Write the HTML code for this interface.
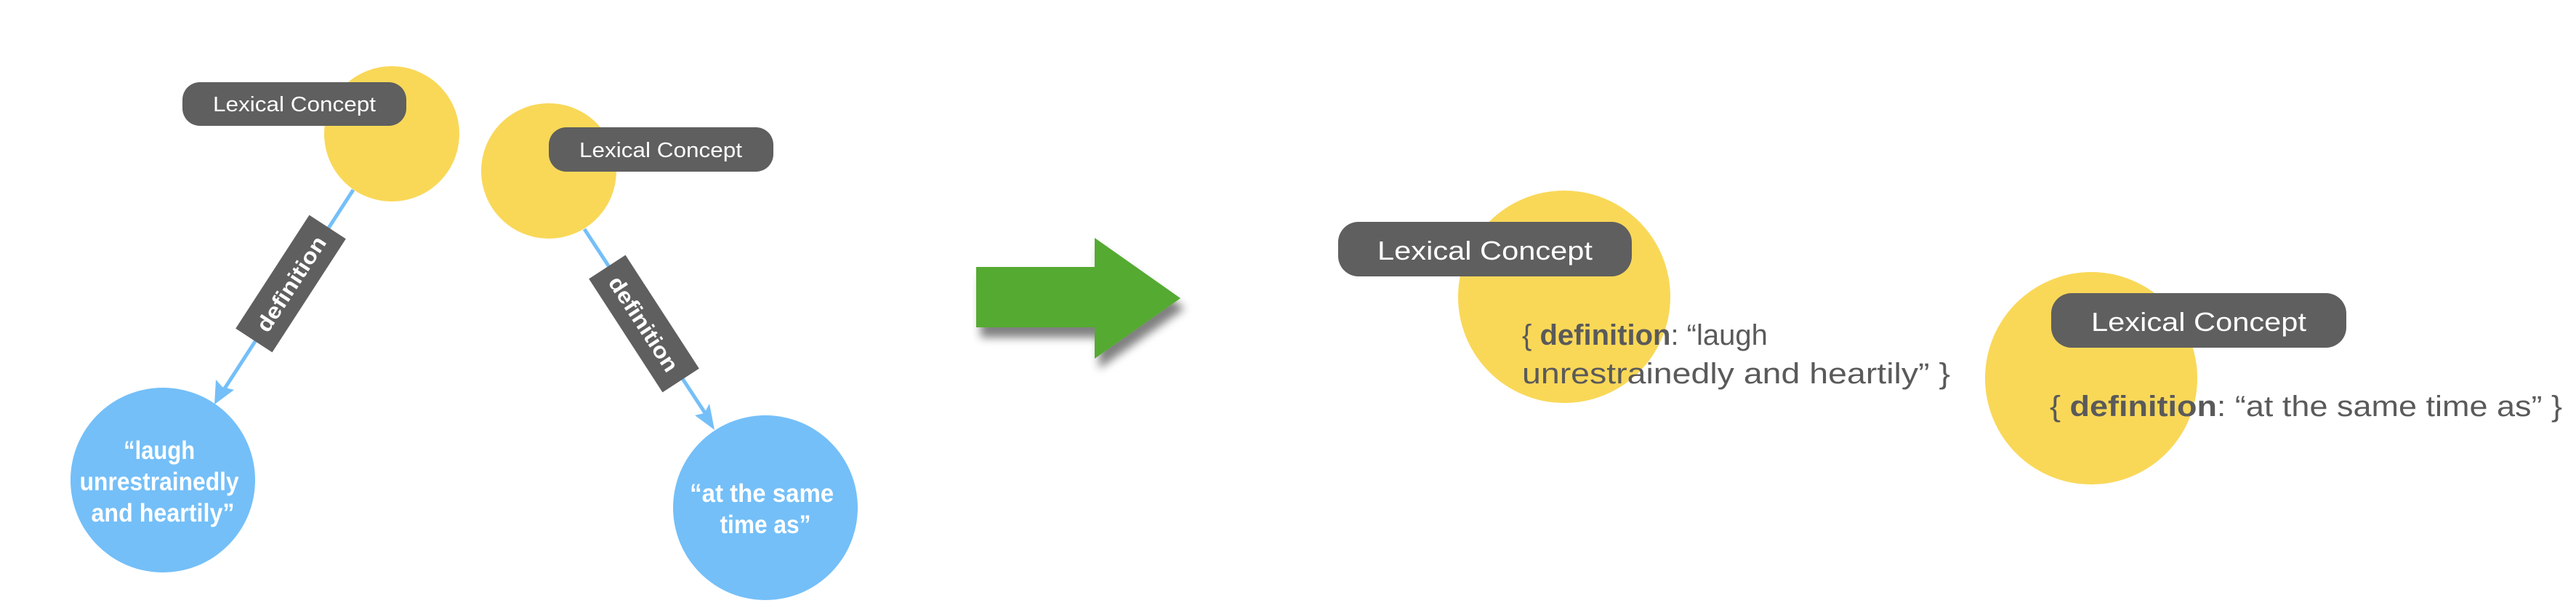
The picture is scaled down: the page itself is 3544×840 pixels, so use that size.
<!DOCTYPE html>
<html><head><meta charset="utf-8"><style>
html,body{margin:0;padding:0;background:#fff;}
svg{display:block;}
text{font-family:"Liberation Sans",sans-serif;}
</style></head><body>
<svg width="3544" height="840" viewBox="0 0 3544 840" xmlns="http://www.w3.org/2000/svg">
<defs>
<filter id="sh" x="-20%" y="-20%" width="150%" height="150%"><feGaussianBlur in="SourceAlpha" stdDeviation="6"/><feOffset dx="6" dy="14"/><feComponentTransfer><feFuncA type="linear" slope="0.5"/></feComponentTransfer><feMerge><feMergeNode/><feMergeNode in="SourceGraphic"/></feMerge></filter>
</defs>
<line x1="486" y1="261" x2="302" y2="545" stroke="#74BFF8" stroke-width="5"/>
<polygon points="295,556 297,522 306,532 322,536" fill="#74BFF8"/>
<line x1="804" y1="315" x2="978" y2="580" stroke="#74BFF8" stroke-width="5"/>
<polygon points="983,591 956,571 969,568 976,555" fill="#74BFF8"/>
<circle cx="539" cy="184" r="93" fill="#F9D858"/>
<circle cx="755" cy="235" r="93" fill="#F9D858"/>
<rect x="251" y="113" width="308" height="60" rx="24" fill="#5F5F5F"/>
<text x="405" y="153" fill="#fff" font-size="29" text-anchor="middle" textLength="224" lengthAdjust="spacingAndGlyphs">Lexical Concept</text>
<rect x="755" y="175" width="309" height="61" rx="24" fill="#5F5F5F"/>
<text x="909" y="216" fill="#fff" font-size="29" text-anchor="middle" textLength="224" lengthAdjust="spacingAndGlyphs">Lexical Concept</text>
<g transform="translate(400,390) rotate(-57)">
<rect x="-93" y="-30" width="186" height="60" fill="#5F5F5F"/>
<text x="0" y="11" fill="#fff" font-size="30" font-weight="bold" text-anchor="middle" textLength="150" lengthAdjust="spacingAndGlyphs">definition</text>
</g>
<g transform="translate(886,445) rotate(57)">
<rect x="-93" y="-30" width="186" height="60" fill="#5F5F5F"/>
<text x="0" y="11" fill="#fff" font-size="30" font-weight="bold" text-anchor="middle" textLength="150" lengthAdjust="spacingAndGlyphs">definition</text>
</g>
<circle cx="224" cy="660" r="127" fill="#74BFF8"/>
<text fill="#fff" font-size="35" font-weight="bold" text-anchor="middle">
<tspan x="224" y="631" textLength="98" lengthAdjust="spacingAndGlyphs">“laugh</tspan>
<tspan x="224" y="674" textLength="219" lengthAdjust="spacingAndGlyphs">unrestrainedly</tspan>
<tspan x="224" y="717" textLength="197" lengthAdjust="spacingAndGlyphs">and heartily”</tspan>
</text>
<circle cx="1053" cy="698" r="127" fill="#74BFF8"/>
<text fill="#fff" font-size="35" font-weight="bold" text-anchor="middle">
<tspan x="1053" y="690" textLength="198" lengthAdjust="spacingAndGlyphs">“at the same</tspan>
<tspan x="1053" y="733" textLength="125" lengthAdjust="spacingAndGlyphs">time as”</tspan>
</text>
<polygon points="1343,367 1506,367 1506,327 1624,410 1506,493 1506,450 1343,450" fill="#55AA33" filter="url(#sh)"/>
<circle cx="2152" cy="408" r="146" fill="#F9D858"/>
<rect x="1841" y="305" width="404" height="75" rx="28" fill="#5F5F5F"/>
<text x="2043" y="357" fill="#fff" font-size="36" text-anchor="middle" textLength="296" lengthAdjust="spacingAndGlyphs">Lexical Concept</text>
<text fill="#5A5A5A" font-size="40">
<tspan x="2094" y="474">{ <tspan font-weight="bold">definition</tspan>: “laugh</tspan>
<tspan x="2094" y="527" textLength="589" lengthAdjust="spacingAndGlyphs">unrestrainedly and heartily”  }</tspan>
</text>
<circle cx="2877" cy="520" r="146" fill="#F9D858"/>
<rect x="2822" y="403" width="406" height="75" rx="28" fill="#5F5F5F"/>
<text x="3025" y="455" fill="#fff" font-size="36" text-anchor="middle" textLength="296" lengthAdjust="spacingAndGlyphs">Lexical Concept</text>
<text x="2820" y="572" fill="#5A5A5A" font-size="40" textLength="705" lengthAdjust="spacingAndGlyphs">{ <tspan font-weight="bold">definition</tspan>: “at the same time as”  }</text>
</svg>
</body></html>
